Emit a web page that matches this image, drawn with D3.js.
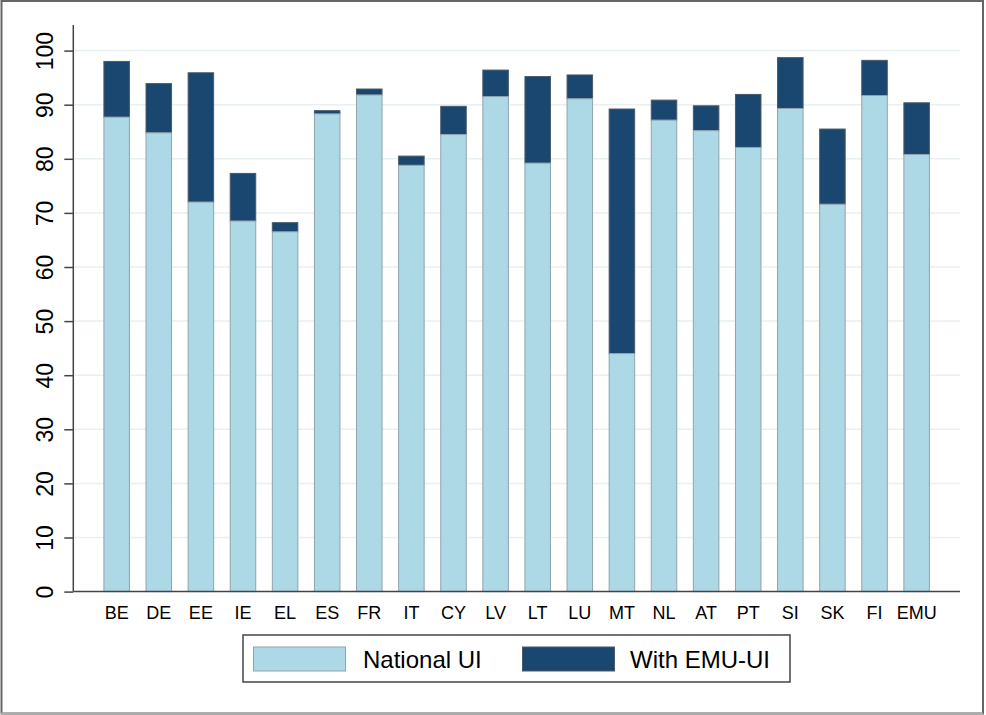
<!DOCTYPE html>
<html>
<head>
<meta charset="utf-8">
<script src="https://cdn.jsdelivr.net/npm/d3@7"></script>
<style>
  html, body { margin: 0; padding: 0; background: #fff; }
  svg { display: block; }
</style>
</head>
<body>
<svg id="chart" width="986" height="715"></svg>
<script>
const categories = ["BE","DE","EE","IE","EL","ES","FR","IT","CY","LV","LT","LU","MT","NL","AT","PT","SI","SK","FI","EMU"];
const nationalUI = [87.7, 84.8, 72.0, 68.5, 66.5, 88.3, 91.8, 78.8, 84.5, 91.5, 79.2, 91.1, 44.0, 87.15, 85.2, 82.1, 89.3, 71.6, 91.7, 80.8];
const withEMUUI  = [98.0, 93.9, 95.9, 77.3, 68.2, 88.9, 92.9, 80.5, 89.7, 96.4, 95.2, 95.5, 89.2, 90.85, 89.8, 91.9, 98.7, 85.5, 98.2, 90.35];
const yTicks = [0,10,20,30,40,50,60,70,80,90,100];
const seriesNames = ["National UI", "With EMU-UI"];

(function () {
const svg = d3.select("#chart");
const font = "'Liberation Sans', Arial, sans-serif";
const lightColor = "#add8e6", darkColor = "#1a476f";

// outer frame
svg.append("rect").attr("x", 1.5).attr("y", 1).attr("width", 981.5).attr("height", 712.5)
  .attr("fill", "#fff").attr("stroke", "#666").attr("stroke-width", 2);
svg.append("line").attr("x1", 1).attr("x2", 983).attr("y1", 713.5).attr("y2", 713.5)
  .attr("stroke", "#aaa").attr("stroke-width", 2);

const plotL = 73.3, plotR = 960, plotT = 25;
const x = d3.scaleBand().domain(categories).range([plotL, plotR]).paddingInner(0.394).paddingOuter(0.727);
const y = d3.scaleLinear().domain([0, 100]).range([591.6, 50.6]);

// gridlines
svg.append("g").selectAll("line").data(yTicks.filter(d => d > 0)).join("line")
  .attr("x1", plotL).attr("x2", plotR)
  .attr("y1", d => y(d)).attr("y2", d => y(d))
  .attr("stroke", "#e8f0f2").attr("stroke-width", 1.5);

// bars
const g = svg.append("g");
categories.forEach((c, i) => {
  g.append("rect")
    .attr("x", x(c)).attr("width", x.bandwidth())
    .attr("y", y(withEMUUI[i])).attr("height", y(nationalUI[i]) - y(withEMUUI[i]))
    .attr("fill", darkColor).attr("stroke", "#4a5a68").attr("stroke-width", 1);
  g.append("rect")
    .attr("x", x(c)).attr("width", x.bandwidth())
    .attr("y", y(nationalUI[i])).attr("height", y(0) - y(nationalUI[i]))
    .attr("fill", lightColor).attr("stroke", "#8fa4ad").attr("stroke-width", 1);
});

// y axis
const yAxis = d3.axisLeft(y).tickValues(yTicks).tickSize(9).tickPadding(11);
const ya = svg.append("g").attr("transform", `translate(${plotL},0)`).call(yAxis);
ya.select(".domain").remove();
ya.append("line").attr("x1", 0).attr("x2", 0).attr("y1", plotT).attr("y2", y(0))
  .attr("stroke", "#444").attr("stroke-width", 1.5);
ya.selectAll(".tick line").attr("stroke", "#444").attr("stroke-width", 1.5);
ya.selectAll(".tick text")
  .attr("font-family", font).attr("font-size", 23).attr("fill", "#000")
  .attr("text-anchor", "middle").attr("dy", 0)
  .attr("transform", "rotate(-90)")
  .attr("x", 0).attr("y", -20);

// x axis
const xAxis = d3.axisBottom(x).tickSize(0).tickPadding(12);
const xa = svg.append("g").attr("transform", `translate(0,${y(0)})`).call(xAxis);
xa.select(".domain").remove();
xa.append("line").attr("x1", plotL).attr("x2", plotR).attr("y1", 0).attr("y2", 0)
  .attr("stroke", "#444").attr("stroke-width", 1.5);
xa.selectAll(".tick text").attr("font-family", font).attr("font-size", 18).attr("fill", "#000")
  .attr("dy", 0).attr("y", 27.7);

// legend
const lg = svg.append("g");
lg.append("rect").attr("x", 243).attr("y", 635).attr("width", 547).attr("height", 47)
  .attr("fill", "#fff").attr("stroke", "#444").attr("stroke-width", 1.5);
const legendItems = [
  {name: seriesNames[0], fill: lightColor, stroke: "#8fa4ad", sx: 253.5, tx: 363},
  {name: seriesNames[1], fill: darkColor, stroke: "#4a5a68", sx: 522.5, tx: 630}
];
legendItems.forEach(it => {
  lg.append("rect").attr("x", it.sx).attr("y", 647).attr("width", 92).attr("height", 24)
    .attr("fill", it.fill).attr("stroke", it.stroke).attr("stroke-width", 1);
  lg.append("text").attr("x", it.tx).attr("y", 667.5)
    .attr("font-family", font).attr("font-size", 24).attr("fill", "#000").text(it.name);
});
})();
</script>
</body>
</html>
